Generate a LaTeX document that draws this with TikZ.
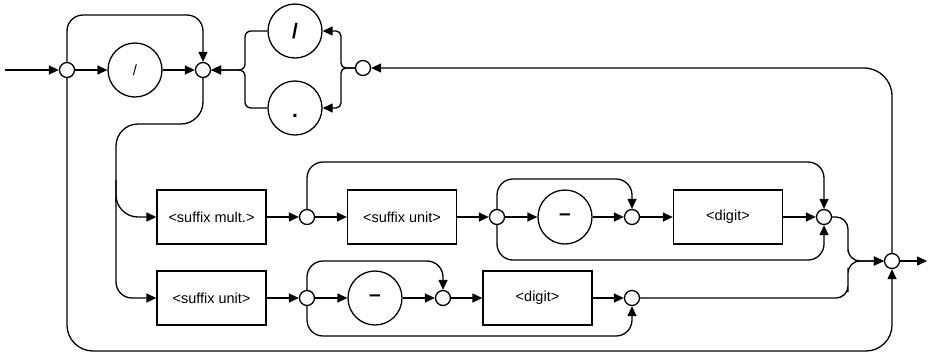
\documentclass[tikz,border=0pt]{standalone}
\usepackage{fontspec}
\setmainfont{Liberation Sans}
\usetikzlibrary{arrows.meta}

\tikzset{
    rail/.style={line width=1.3pt, rounded corners=16pt},
    flow/.style={rail, -{Triangle[length=10pt,width=9pt]}},
    junc/.style={draw, circle, line width=1.3pt, minimum size=15pt, inner sep=0pt},
    term/.style={draw, circle, line width=1.3pt, minimum size=54pt, inner sep=0pt, font=\fontsize{15}{18}\selectfont},
    bigterm/.style={term, font=\fontsize{21}{25}\selectfont\bfseries},
    nonterm/.style={draw, rectangle, line width=1.3pt, minimum width=109pt, minimum height=54pt, inner sep=2pt, font=\fontsize{14.5}{17}\selectfont}
}

\begin{document}
\begin{tikzpicture}[x=1pt, y=-1pt]
    \useasboundingbox (0,0) rectangle (928,354);

    % Head: separator and its loop
    \coordinate (start) at (5,70);
    \node[junc] (j1) at (67,70) {};
    \node[term] (sl1) at (135,70) {/};
    \node[junc] (j2) at (203,70) {};
    \node[bigterm] (sl2) at (295,31) {/};
    \node[bigterm] (dot) at (295,108) {\rule{0pt}{18pt}.};
    \node[junc] (j3) at (363,68) {};

    % Row with suffix multiplier
    \node[nonterm] (mult) at (211.5,217) {<suffix mult.>};
    \node[junc] (j4) at (307,217) {};
    \node[nonterm] (su1) at (402,217) {<suffix unit>};
    \node[junc] (j5) at (497,217) {};
    \node[bigterm] (mi1) at (565,217) {–};
    \node[junc] (j6) at (632,217) {};
    \node[nonterm] (d1) at (728,217) {<digit>};
    \node[junc] (j7) at (824,217) {};

    % Row with suffix unit only
    \node[nonterm] (su2) at (211.5,298) {<suffix unit>};
    \node[junc] (j8) at (307,298) {};
    \node[bigterm] (mi2) at (375,298) {–};
    \node[junc] (j9) at (443,298) {};
    \node[nonterm] (d2) at (537.5,298) {<digit>};
    \node[junc] (j10) at (632,298) {};

    % Exit
    \node[junc] (jf) at (892,261) {};
    \coordinate (end) at (927,261);

    % Head connectors
    \draw[flow] (start) -- (j1);
    \draw[flow] (j1) -- (sl1);
    \draw[flow] (sl1) -- (j2);
    \draw[flow] (j1.north) |- (140,15) -| (j2.north);
    \draw[flow, rounded corners=5pt] (j3.west) -- (341,68) |- (sl2.east);
    \draw[flow, rounded corners=5pt] (j3.west) -- (341,68) |- (dot.east);
    \draw[flow, rounded corners=6pt] (sl2.west) -| (245,70) -- (j2.east);
    \draw[flow, rounded corners=6pt] (dot.west) -| (245,70) -- (j2.east);
    \draw[flow, rounded corners=28pt] (jf.north) |- (j3.east);

    % Down to the two rows
    \draw[flow, rounded corners=22pt] (j2.south) |- (160,124) -| (116,180) |- (mult.west);
    \draw[flow] (116,180) |- (su2.west);

    % Row 1 connectors
    \draw[flow] (mult) -- (j4);
    \draw[flow] (j4) -- (su1);
    \draw[flow] (su1) -- (j5);
    \draw[flow] (j5) -- (mi1);
    \draw[flow] (mi1) -- (j6);
    \draw[flow] (j6) -- (d1);
    \draw[flow] (d1) -- (j7);
    \draw[flow] (j4.north) |- (560,162) -| (j7.north);
    \draw[flow] (j5.north) |- (560,179) -| (j6.north);
    \draw[flow] (j5.south) |- (660,260) -| (j7.south);

    % Row 2 connectors
    \draw[flow] (su2) -- (j8);
    \draw[flow] (j8) -- (mi2);
    \draw[flow] (mi2) -- (j9);
    \draw[flow] (j9) -- (d2);
    \draw[flow] (d2) -- (j10);
    \draw[flow] (j8.north) |- (380,261) -| (j9.north);
    \draw[flow] (j8.south) |- (480,336) -| (j10.south);

    % Merge and bottom loop
    \draw[flow, rounded corners=12pt] (j7.east) -| (848,240) |- (jf.west);
    \draw[flow, rounded corners=12pt] (j10.east) -| (848,280) |- (jf.west);
    \draw[flow, rounded corners=26pt] (j1.south) |- (500,351) -| (jf.south);
    \draw[flow] (jf) -- (end);
\end{tikzpicture}
\end{document}
